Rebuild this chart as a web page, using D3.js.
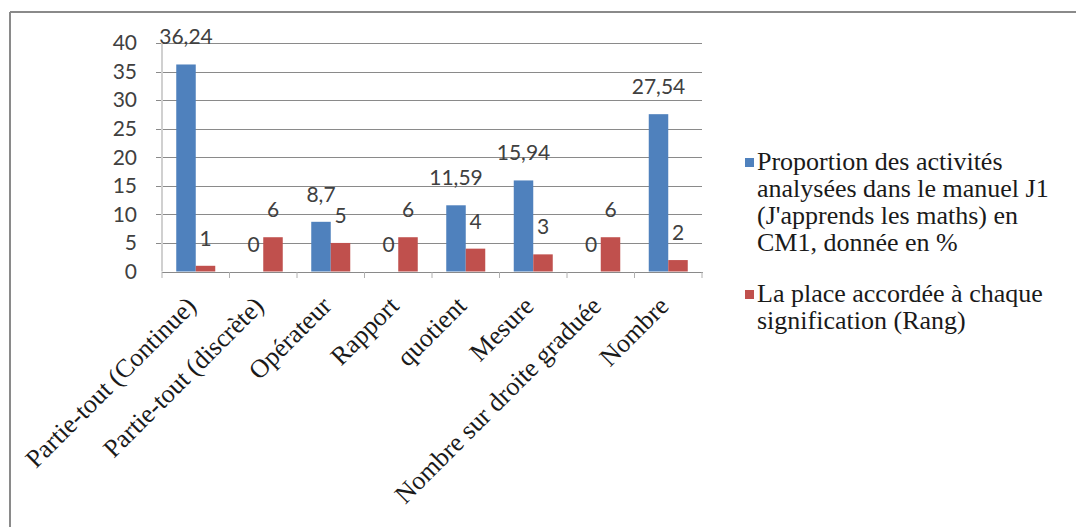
<!DOCTYPE html>
<html>
<head>
<meta charset="utf-8">
<script src="https://cdn.jsdelivr.net/npm/d3@7"></script>
<style>
  html, body { margin: 0; padding: 0; background: #fff; }
  svg { display: block; }
  .sans { font-family: Lato, "Open Sans", sans-serif; }
</style>
</head>
<body>
<svg id="chart" width="1076" height="527"></svg>
<script>
const categories = ["Partie-tout (Continue)", "Partie-tout (discrète)", "Opérateur", "Rapport", "quotient", "Mesure", "Nombre sur droite graduée", "Nombre"];
const proportion = [36.24, 0, 8.7, 0, 11.59, 15.94, 0, 27.54];
const rang = [1, 6, 5, 6, 4, 3, 6, 2];
const yTicks = [0, 5, 10, 15, 20, 25, 30, 35, 40];
const legendBlue = ["Proportion des activités", "analysées dans le manuel J1", "(J'apprends les maths) en", "CM1, donnée en %"];
const legendRed = ["La place accordée à chaque", "signification (Rang)"];
const seriesKeys = ["proportion", "rang"];
const colors = { proportion: "#4F81BD", rang: "#C0504D" };

const SERIF = '"Liberation Serif", "Times New Roman", Times, serif';
const svg = d3.select("#chart");
const W = 1076, H = 527;

svg.append("line").attr("x1", 10).attr("x2", W).attr("y1", 12).attr("y2", 12)
  .attr("stroke", "#8a8a8a").attr("stroke-width", 2);
svg.append("line").attr("x1", 10).attr("x2", 10).attr("y1", 12).attr("y2", H)
  .attr("stroke", "#8a8a8a").attr("stroke-width", 2);

const plot = { left: 162, right: 702, top: 43, bottom: 271.5 };

const x = d3.scaleBand().domain(categories).range([plot.left, plot.right]).padding(0);
const bw = 19.5;
const x1 = d3.scaleBand().domain(seriesKeys).range([0, 2 * bw]).padding(0);
const y = d3.scaleLinear().domain([0, 40]).range([plot.bottom, plot.top]);

const locale = d3.formatLocale({ decimal: ",", thousands: " ", grouping: [3], currency: ["", ""] });
const fmt = locale.format("~g");

svg.append("g").selectAll("line").data(yTicks.filter(d => d > 0)).join("line")
  .attr("x1", plot.left - 6).attr("x2", plot.right)
  .attr("y1", d => Math.round(y(d)) + 0.5).attr("y2", d => Math.round(y(d)) + 0.5)
  .attr("stroke", "#8a8a8a").attr("stroke-width", 1);

svg.append("line").attr("x1", plot.left).attr("x2", plot.left)
  .attr("y1", plot.top).attr("y2", plot.bottom)
  .attr("stroke", "#d0d0d0").attr("stroke-width", 2);

svg.append("g").attr("class", "sans").selectAll("text").data(yTicks).join("text")
  .attr("x", 137).attr("y", d => y(d))
  .attr("dy", "0.35em")
  .attr("text-anchor", "end")
  .attr("font-size", 21)
  .attr("fill", "#404040")
  .text(d => d);

const rows = categories.map((c, i) => ({ cat: c, proportion: proportion[i], rang: rang[i] }));
const off = (x.bandwidth() - 2 * bw) / 2;
const groups = svg.append("g").selectAll("g").data(rows).join("g")
  .attr("transform", d => `translate(${x(d.cat) + off},0)`);

groups.selectAll("rect").data(d => seriesKeys.map(k => ({ key: k, value: d[k] }))).join("rect")
  .attr("x", d => x1(d.key))
  .attr("width", x1.bandwidth())
  .attr("y", d => y(d.value))
  .attr("height", d => y(0) - y(d.value))
  .attr("fill", d => colors[d.key]);

groups.selectAll("text").data(d => seriesKeys.map(k => ({ key: k, value: d[k] }))).join("text")
  .attr("class", "sans")
  .attr("x", d => x1(d.key) + x1.bandwidth() / 2)
  .attr("y", d => y(d.value) - 20)
  .attr("text-anchor", "middle")
  .attr("font-size", 21)
  .attr("fill", "#404040")
  .text(d => fmt(d.value));

svg.append("line").attr("x1", plot.left).attr("x2", plot.right + 1)
  .attr("y1", Math.round(plot.bottom) + 0.5).attr("y2", Math.round(plot.bottom) + 0.5)
  .attr("stroke", "#8a8a8a").attr("stroke-width", 1);
const bounds = categories.map(c => x(c)).concat([plot.right]);
svg.append("g").selectAll("line").data(bounds).join("line")
  .attr("x1", d => d).attr("x2", d => d)
  .attr("y1", Math.round(plot.bottom)).attr("y2", Math.round(plot.bottom) + 6)
  .attr("stroke", "#b0b0b0").attr("stroke-width", 1);

svg.append("g").selectAll("text").data(categories).join("text")
  .style("font-family", SERIF)
  .attr("transform", d => `translate(${x(d) + x.bandwidth() / 2 + 2},${plot.bottom + 36}) rotate(-45)`)
  .attr("text-anchor", "end")
  .attr("font-size", 26)
  .attr("fill", "#1a1a1a")
  .text(d => d);

function legendItem(lines, color, top) {
  svg.append("rect").attr("x", 745).attr("y", top - 12).attr("width", 9).attr("height", 9).attr("fill", color);
  svg.append("g").selectAll("text").data(lines).join("text")
    .style("font-family", SERIF)
    .attr("font-size", 26)
    .attr("fill", "#1a1a1a")
    .attr("transform", (d, i) => `translate(757,${top + i * 27}) rotate(0)`)
    .text(d => d);
}
legendItem(legendBlue, colors.proportion, 170);
legendItem(legendRed, colors.rang, 302);
</script>
</body>
</html>
